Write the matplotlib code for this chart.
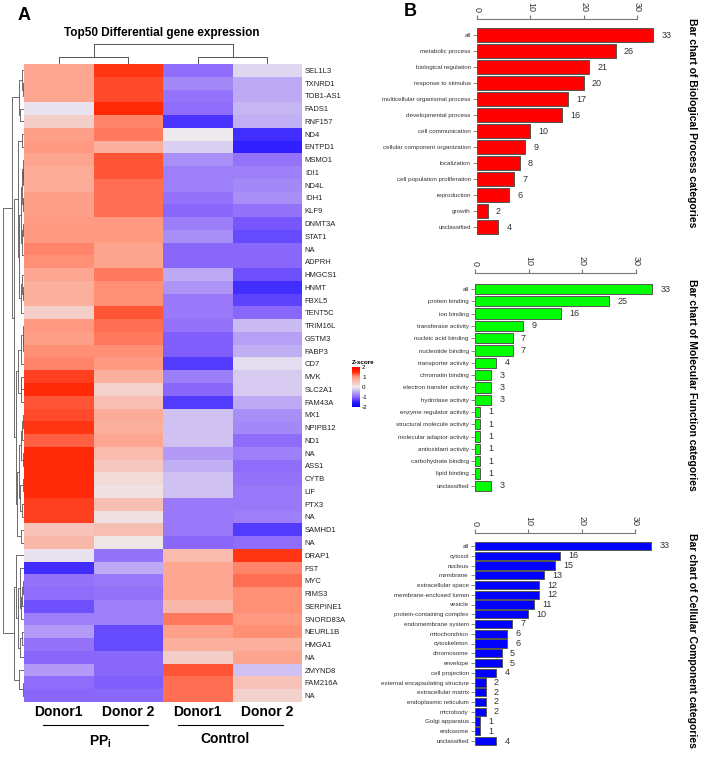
import numpy as np
import matplotlib
matplotlib.use("Agg")
import matplotlib.pyplot as plt
from matplotlib.colors import LinearSegmentedColormap

plt.rcParams['font.family'] = ['Liberation Sans', 'DejaVu Sans']
plt.rcParams['axes.unicode_minus'] = False

# ---- data: panel A (row z-scores, columns PPi D1, PPi D2, Control D1, Control D2)
genes = ['SEL1L3', 'TXNRD1', 'TOB1-AS1', 'FADS1', 'RNF157', 'ND4', 'ENTPD1', 'MSMO1',
         'IDI1', 'ND4L', 'IDH1', 'KLF9', 'DNMT3A', 'STAT1', 'NA', 'ADPRH', 'HMGCS1',
         'HNMT', 'FBXL5', 'TENT5C', 'TRIM16L', 'GSTM3', 'FABP3', 'CD7', 'MVK', 'SLC2A1',
         'FAM43A', 'MX1', 'NPIPB12', 'ND1', 'NA', 'ASS1', 'CYTB', 'LIF', 'PTX3', 'NA',
         'SAMHD1', 'NA', 'DRAP1', 'FST', 'MYC', 'RIMS3', 'SERPINE1', 'SNORD83A',
         'NEURL1B', 'HMGA1', 'NA', 'ZMYND8', 'FAM216A', 'NA']
samples = ['Donor1', 'Donor 2', 'Donor1', 'Donor 2']
groups = ['PP$_\\mathregular{i}$', 'Control']

zscores = np.array([
    [0.85, 1.45, -0.95, -0.15], [0.85, 1.35, -0.75, -0.50], [0.85, 1.35, -0.90, -0.50],
    [-0.05, 1.50, -0.95, -0.40], [0.35, 1.10, -1.35, -0.45], [0.95, 1.15, 0.00, -1.40],
    [1.00, 0.75, -0.20, -1.50], [0.90, 1.30, -0.70, -0.90], [0.80, 1.30, -0.80, -0.80],
    [0.80, 1.20, -0.80, -0.75], [0.95, 1.20, -0.90, -0.70], [0.95, 1.20, -1.00, -0.90],
    [1.00, 1.00, -0.80, -1.10], [1.00, 1.00, -0.70, -1.20], [1.10, 0.90, -1.00, -1.00],
    [1.05, 0.90, -1.00, -1.00], [0.85, 1.15, -0.50, -1.15], [0.75, 1.05, -0.65, -1.40],
    [0.75, 1.05, -0.85, -1.25], [0.35, 1.30, -0.85, -1.00], [1.00, 1.20, -0.90, -0.35],
    [0.95, 1.15, -1.05, -0.55], [1.05, 1.05, -1.05, -0.45], [1.10, 1.00, -1.30, -0.10],
    [1.40, 0.75, -0.80, -0.25], [1.50, 0.30, -1.00, -0.25], [1.30, 0.55, -1.30, -0.50],
    [1.35, 0.80, -0.30, -0.70], [1.45, 0.75, -0.30, -0.75], [1.25, 0.85, -0.30, -0.95],
    [1.50, 0.60, -0.60, -0.80], [1.50, 0.45, -0.45, -0.95], [1.50, 0.20, -0.30, -0.90],
    [1.50, 0.10, -0.30, -0.85], [1.40, 0.55, -0.85, -0.85], [1.40, 0.10, -0.85, -0.80],
    [0.50, 0.55, -0.85, -1.30], [0.65, 0.05, -1.00, -0.95], [-0.05, -0.90, 0.60, 1.45],
    [-1.40, -0.50, 0.85, 1.10], [-0.90, -0.85, 0.85, 1.20], [-0.95, -0.90, 0.85, 1.05],
    [-1.15, -0.80, 0.65, 1.05], [-0.80, -0.80, 1.15, 1.00], [-0.60, -1.20, 0.95, 1.05],
    [-0.90, -1.20, 0.75, 0.75], [-1.00, -1.00, 0.35, 0.90], [-0.60, -1.00, 1.30, -0.30],
    [-0.95, -1.05, 1.20, 0.50], [-1.00, -1.00, 1.20, 0.30],
])

# ---- data: panel B (GO slim categories)
bp_terms = ['all', 'metabolic process', 'biological regulation', 'response to stimulus',
            'multicellular organismal process', 'developmental process', 'cell communication',
            'cellular component organization', 'localization', 'cell population proliferation',
            'reproduction', 'growth', 'unclassified']
bp_counts = [33, 26, 21, 20, 17, 16, 10, 9, 8, 7, 6, 2, 4]

mf_terms = ['all', 'protein binding', 'ion binding', 'transferase activity',
            'nucleic acid binding', 'nucleotide binding', 'transporter activity',
            'chromatin binding', 'electron transfer activity', 'hydrolase activity',
            'enzyme regulator activity', 'structural molecule activity',
            'molecular adaptor activity', 'antioxidant activity', 'carbohydrate binding',
            'lipid binding', 'unclassified']
mf_counts = [33, 25, 16, 9, 7, 7, 4, 3, 3, 3, 1, 1, 1, 1, 1, 1, 3]

cc_terms = ['all', 'cytosol', 'nucleus', 'membrane', 'extracellular space',
            'membrane-enclosed lumen', 'vesicle', 'protein-containing complex',
            'endomembrane system', 'mitochondrion', 'cytoskeleton', 'chromosome',
            'envelope', 'cell projection', 'external encapsulating structure',
            'extracellular matrix', 'endoplasmic reticulum', 'microbody',
            'Golgi apparatus', 'endosome', 'unclassified']
cc_counts = [33, 16, 15, 13, 12, 12, 11, 10, 7, 6, 6, 5, 5, 4, 2, 2, 2, 2, 1, 1, 4]

W, H = 702, 757
fig = plt.figure(figsize=(W / 100, H / 100), dpi=100)


def px_axes(left, right, top, bottom):
    return fig.add_axes([left / W, 1 - bottom / H, (right - left) / W, (bottom - top) / H])


def adjacent_linkage(data):
    # complete-linkage clustering that only joins neighbours, so the tree
    # keeps the row order used in the heatmap
    d = np.sqrt(((data[:, None, :] - data[None, :, :]) ** 2).sum(-1))
    clusters = [dict(members=[i], pos=i + 0.5, height=0.0) for i in range(len(data))]
    links = []
    while len(clusters) > 1:
        best = None
        for k in range(len(clusters) - 1):
            a, b = clusters[k], clusters[k + 1]
            h = d[np.ix_(a['members'], b['members'])].max()
            if best is None or h < best[0]:
                best = (h, k)
        h, k = best
        a, b = clusters[k], clusters[k + 1]
        h = max(h, a['height'], b['height'])
        links.append((a['pos'], a['height'], b['pos'], b['height'], h))
        clusters[k:k + 2] = [dict(members=a['members'] + b['members'],
                                  pos=(a['pos'] + b['pos']) / 2, height=h)]
    return links, clusters[0]['height']


# overlay for free text / group lines
ov = fig.add_axes([0, 0, 1, 1])
ov.set_xlim(0, W)
ov.set_ylim(H, 0)
ov.axis('off')

# ---- heatmap
cmap = LinearSegmentedColormap.from_list('zs', [
    (0.0, '#0000FF'), (0.125, '#3020FF'), (0.25, '#8A66FB'), (0.5, '#EEEAEE'),
    (0.75, '#FF9C84'), (0.875, '#FF2A08'), (1.0, '#FF0000')])

hx = px_axes(24, 302, 64, 702)
mesh = hx.pcolormesh(zscores, cmap=cmap, vmin=-2, vmax=2)
hx.set_xlim(0, 4)
hx.set_ylim(len(genes), 0)
hx.set_xticks([])
hx.yaxis.tick_right()
hx.set_yticks(np.arange(len(genes)) + 0.5)
hx.set_yticklabels(genes, fontsize=5.5, color='#222222')
hx.tick_params(axis='y', length=0, pad=2)
for s in hx.spines.values():
    s.set_visible(False)

# row dendrogram
links, top = adjacent_linkage(zscores)
rd = px_axes(3, 24, 64, 702)
for pa, ha, pb, hb, h in links:
    rd.plot([ha, h, h, hb], [pa, pa, pb, pb], color='#555555', lw=0.6)
rd.set_xlim(top, 0)
rd.set_ylim(len(genes), 0)
rd.axis('off')

# column dendrogram
clinks, ctop = adjacent_linkage(zscores.T)
cd = px_axes(24, 302, 44, 64)
for pa, ha, pb, hb, h in clinks:
    cd.plot([pa, pa, pb, pb], [ha, h, h, hb], color='#555555', lw=0.7)
cd.set_xlim(0, 4)
cd.set_ylim(-0.02 * ctop, ctop)
cd.axis('off')

# colour key
cax = px_axes(352, 360, 367, 407)
cb = fig.colorbar(mesh, cax=cax, ticks=[-2, -1, 0, 1, 2])
cb.outline.set_visible(False)
cax.tick_params(length=0, labelsize=4.5, pad=1.5)
ov.text(352, 362, 'Z-score', fontsize=4.5, fontweight='bold', ha='left', va='center')

ov.text(24, 16, 'A', fontsize=13, fontweight='bold', ha='center', va='center')
ov.text(162, 33, 'Top50 Differential gene expression', fontsize=8.5,
        fontweight='bold', ha='center', va='center')

col_x = [58.5, 128, 197.5, 267]
for x, s in zip(col_x, samples):
    ov.text(x, 712, s, fontsize=10, fontweight='bold', ha='center', va='center')
ov.plot([43, 148], [725, 725], color='black', lw=0.8)
ov.plot([178, 283], [725, 725], color='black', lw=0.8)
ov.text(100, 742, groups[0], fontsize=10, fontweight='bold', ha='center', va='center')
ov.text(225, 739, groups[1], fontsize=10, fontweight='bold', ha='center', va='center')

# ---- panel B bar charts
ov.text(410, 12, 'B', fontsize=13, fontweight='bold', ha='center', va='center')


def bar_panel(terms, counts, color, title, left, x30, right, top, c0, step, bottom, title_y):
    ax = px_axes(left, right, top, bottom)
    pos = np.arange(len(terms))
    ax.barh(pos, counts, height=0.83, color=color, edgecolor='#555555', linewidth=0.7)
    ax.set_xlim(0, 30 * (right - left) / (x30 - left))
    ax.set_ylim((bottom - c0) / step, (top - c0) / step)
    ax.patch.set_visible(False)
    for side in ['left', 'right', 'bottom']:
        ax.spines[side].set_visible(False)
    ax.spines['top'].set_bounds(0, 30)
    ax.spines['top'].set_color('#777777')
    ax.spines['top'].set_linewidth(0.8)
    ax.xaxis.tick_top()
    ax.set_xticks([0, 10, 20, 30])
    ax.set_xticklabels(['0', '10', '20', '30'], rotation=-90, fontsize=6.5, color='#333333')
    ax.tick_params(axis='x', length=3, pad=2, color='#777777', width=0.8)
    ax.set_yticks(pos)
    ax.set_yticklabels(terms, fontsize=4.5, color='#333333')
    ax.tick_params(axis='y', length=3, pad=1.5, color='#777777', width=0.6)
    for i, v in enumerate(counts):
        ax.annotate(str(v), (v, i), xytext=(6, 0), textcoords='offset points',
                    va='center', ha='left', fontsize=6.5, color='#333333')
    ov.text(692, title_y, title, rotation=-90, fontsize=7.5, fontweight='bold',
            ha='center', va='center')


bar_panel(bp_terms, bp_counts, '#FF0000', 'Bar chart of Biological Process categories',
          477, 637, 670, 19, 35, 16, 243, 123)
bar_panel(mf_terms, mf_counts, '#00FF00', 'Bar chart of Molecular Function categories',
          475, 636, 670, 273, 289, 12.3, 497, 385)
bar_panel(cc_terms, cc_counts, '#0000FF', 'Bar chart of Cellular Component categories',
          475, 635, 670, 533, 546, 9.75, 750, 640)

fig.savefig('out.png', dpi=100)
